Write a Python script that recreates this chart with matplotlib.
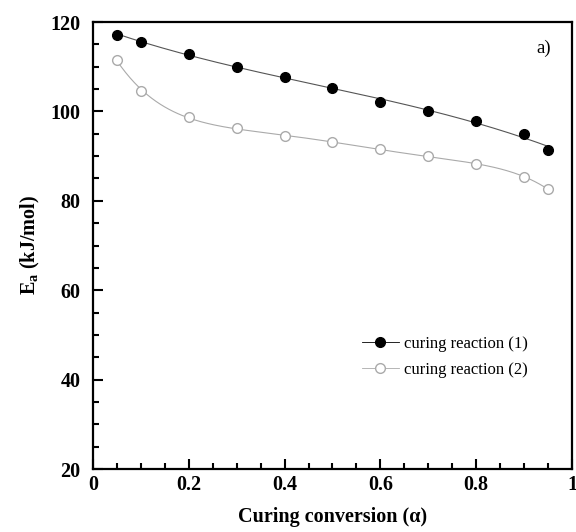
import numpy as np
import matplotlib
matplotlib.use('Agg')
import matplotlib.pyplot as plt
from matplotlib.ticker import MultipleLocator

# curing conversion and activation energies
alpha = [0.05, 0.1, 0.2, 0.3, 0.4, 0.5, 0.6, 0.7, 0.8, 0.9, 0.95]
ea1 = [117.2, 115.6, 112.8, 110.0, 107.6, 105.3, 102.0, 100.2, 97.9, 94.9, 91.4]
ea2 = [111.5, 104.6, 98.8, 96.2, 94.4, 93.2, 91.5, 90.0, 88.2, 85.4, 82.6]
labels = ['curing reaction (1)', 'curing reaction (2)']

plt.rcParams['font.family'] = ['Liberation Serif', 'DejaVu Serif']
plt.rcParams['mathtext.fontset'] = 'custom'
plt.rcParams['mathtext.rm'] = 'Liberation Serif'
plt.rcParams['mathtext.bf'] = 'Liberation Serif:bold'

fig = plt.figure(figsize=(5.76, 5.32), dpi=100)
ax = fig.add_axes([0.1615, 0.1184, 0.8315, 0.8402])

x = np.array(alpha)
xs = np.linspace(x.min(), x.max(), 200)
p1 = np.polyfit(x, ea1, 3)
p2 = np.polyfit(x, ea2, 5)

ax.plot(xs, np.polyval(p1, xs), '-', color='#555555', lw=0.8)
ax.plot(xs, np.polyval(p2, xs), '-', color='#aaaaaa', lw=0.8)
ax.plot(x, ea1, 'o', color='black', ms=7)
ax.plot(x, ea2, 'o', mfc='white', mec='#aaaaaa', mew=1.0, ms=7)

# legend handles
h1, = ax.plot([], [], 'o-', color='black', ms=7, lw=0.6)
h2, = ax.plot([], [], 'o-', color='#aaaaaa', mfc='white', ms=7, lw=0.6)
ax.legend([h1, h2], labels, loc='center left', bbox_to_anchor=(0.53, 0.25),
          frameon=False, fontsize=12, handlelength=2.2, handletextpad=0.35,
          labelspacing=0.6)

ax.text(0.94, 0.93, 'a)', transform=ax.transAxes, fontsize=13.5, ha='center')

ax.set_xlim(0, 1)
ax.set_ylim(20, 120)
ax.xaxis.set_minor_locator(MultipleLocator(0.05))
ax.yaxis.set_major_locator(MultipleLocator(20))
ax.yaxis.set_minor_locator(MultipleLocator(5))
ax.set_xticks([0, 0.2, 0.4, 0.6, 0.8, 1])
ax.set_xticklabels(['0', '0.2', '0.4', '0.6', '0.8', '1'])
ax.tick_params(which='both', direction='in', top=False, right=False, width=1.5)
ax.tick_params(which='major', length=7, labelsize=14.5)
ax.tick_params(axis='y', which='major', pad=9)
ax.tick_params(axis='x', which='major', pad=4)
ax.tick_params(which='minor', length=4)
for lab in ax.get_xticklabels() + ax.get_yticklabels():
    lab.set_fontweight('bold')
for s in ax.spines.values():
    s.set_linewidth(1.6)

ax.set_xlabel('Curing conversion (\u03b1)', fontsize=14.5, fontweight='bold', labelpad=9)
ax.set_ylabel('E$_\\mathbf{a}$ (kJ/mol)', fontsize=14.5, fontweight='bold', labelpad=6)

plt.savefig('out.png', dpi=100)
